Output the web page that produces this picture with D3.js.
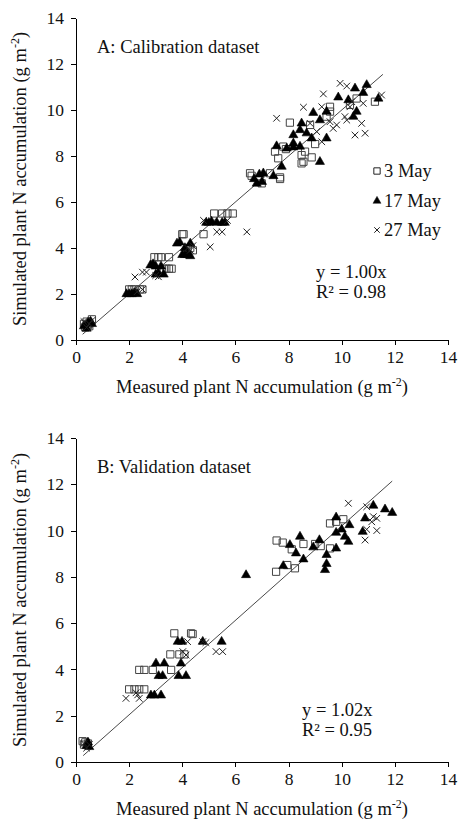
<!DOCTYPE html>
<html lang="en">
<head>
    <meta charset="UTF-8">
    <title>Simulated vs measured plant N accumulation</title>
    <script src="https://d3js.org/d3.v7.min.js"></script>
    <style>
        body {
            margin: 0;
            background: #fff;
            font-family: "Liberation Serif", "Times New Roman", serif;
        }
        .axis path, .axis line {
            stroke: #000;
            shape-rendering: crispEdges;
        }
        .axis text {
            font-family: "Liberation Serif", "Times New Roman", serif;
            font-size: 17.5px;
            fill: #111;
        }
        .lbl {
            font-size: 18.5px;
            fill: #111;
        }
    </style>
</head>
<body>
<div id="chart"></div>
<script>
    // ticks and labels
    const ticks = [0, 2, 4, 6, 8, 10, 12, 14];
    const dates = ["3 May", "17 May", "27 May"];

    // A: calibration dataset, [measured, simulated]
    const calMay3 = [
        [0.3,0.7],[0.4,0.8],[0.5,0.6],[0.6,0.9],[0.35,0.55],[0.45,0.65],
        [2.0,2.2],[2.1,2.2],[2.2,2.2],[2.4,2.2],[2.5,2.2],
        [2.95,3.6],[3.1,3.6],[3.2,3.6],[3.5,3.6],[3.3,3.1],[3.4,3.1],[3.5,3.1],[3.6,3.1],
        [4.0,4.6],[4.05,4.6],[4.3,4.0],[4.4,3.9],[4.2,3.95],[4.8,4.6],
        [5.2,5.5],[5.5,5.5],[5.7,5.5],[5.9,5.5],
        [6.55,7.25],[6.61,7.14],[6.99,6.81],[7.3,7.25],[7.68,7.0],
        [8.05,9.45],[9.56,10.14],[9.56,9.93],[9.43,9.71],[8.81,9.35],[9.0,8.52],[7.49,8.19],
        [7.8,8.41],[7.61,7.9],[8.49,8.04],[8.56,7.75],[8.87,7.94],[7.68,7.07],[8.62,8.19],
        [10.56,10.5],[11.25,10.36],[10.31,10.22],[7.9,8.3],[8.49,7.68]
    ];
    const calMay17 = [
        [0.3,0.6],[0.45,0.75],[0.55,0.8],[0.6,0.7],[0.4,0.5],
        [1.9,2.0],[2.0,2.0],[2.1,2.0],[2.2,2.05],[2.3,2.0],
        [2.8,3.25],[2.9,3.3],[3.0,2.85],[3.1,2.9],[3.2,3.2],[3.3,2.85],[3.0,3.2],
        [3.8,4.2],[3.9,4.25],[4.0,3.7],[4.1,3.7],[4.2,3.7],[4.3,3.65],[4.3,4.2],[4.1,4.0],
        [4.9,5.1],[5.0,5.1],[5.1,5.15],[5.3,5.1],[5.5,5.1],[5.6,5.1],
        [6.7,7.0],[6.8,6.8],[6.9,7.2],[7.05,7.25],[7.43,7.13],[7.0,6.88],[7.74,7.54],
        [10.5,10.94],[10.94,11.09],[10.81,10.75],[11.38,10.5],[9.87,10.55],[10.25,10.43],
        [10.56,9.93],[10.44,9.71],[8.93,9.88],[9.43,9.93],[8.49,9.42],[9.18,9.56],[8.18,8.91],
        [8.43,9.13],[8.68,8.99],[8.87,8.77],[7.55,8.43],[7.93,8.33],[8.18,8.38],[8.43,8.41],
        [9.43,8.77],[9.18,7.75],[8.18,8.55]
    ];
    const calMay27 = [
        [0.3,0.8],[0.4,0.55],[0.5,0.7],[0.6,0.85],
        [2.3,2.1],[2.5,2.2],
        [2.22,2.74],[2.5,2.95],[2.65,2.95],[3.0,2.8],[3.1,2.75],
        [4.2,4.0],[4.3,3.9],[4.4,4.1],
        [4.8,5.2],[5.7,5.2],[5.3,4.7],[5.5,4.7],[5.05,4.05],[6.43,4.7],
        [9.94,11.16],[10.19,11.04],[9.31,10.7],[11.5,10.65],[8.56,10.12],[7.55,9.64],
        [9.25,10.14],[10.31,10.14],[10.81,10.29],[10.12,9.71],[10.75,9.42],[10.5,8.91],
        [10.88,8.99],[9.81,9.35],[9.68,9.2],[9.25,8.62],[9.06,9.06],[8.81,9.42],[9.56,9.49],
        [10.19,9.56],[10.38,10.36]
    ];

    // B: validation dataset, [measured, simulated]
    const valMay3 = [
        [0.25,0.9],[0.3,0.75],[0.35,0.85],[0.45,0.8],
        [2.0,3.14],[2.2,3.14],[2.38,3.14],[2.57,3.14],[2.38,3.98],[2.57,3.98],[2.89,3.98],
        [3.58,3.98],[3.55,4.65],[3.89,4.65],[4.08,4.65],[3.7,5.56],[4.33,5.56],[4.39,5.53],
        [7.55,9.57],[7.78,9.48],[8.56,9.42],[8.12,9.19],[9.0,9.42],[9.21,9.33],[9.56,9.23],
        [9.56,10.31],[9.79,10.38],[10.06,10.49],[7.53,8.22],[7.95,8.51],[8.24,8.37]
    ];
    const valMay17 = [
        [0.4,0.7],[0.5,0.65],[0.45,0.85],
        [3.01,4.26],[3.32,4.26],[3.95,4.26],[3.11,3.72],[3.26,3.72],[3.86,3.72],[4.14,3.72],
        [2.82,2.88],[2.95,2.88],[3.2,2.88],[3.83,5.2],[3.99,5.2],[4.77,5.2],[5.48,5.2],
        [11.19,11.08],[11.63,10.92],[11.9,10.77],[10.88,10.53],[10.79,9.95],[9.79,10.57],
        [10.29,10.24],[10.0,10.05],[9.79,9.91],[10.12,9.74],[10.25,9.52],[9.79,9.23],
        [9.43,8.95],[9.43,8.56],[9.37,8.3],[8.43,9.74],[8.05,9.38],[8.28,9.02],[8.56,8.76],
        [9.16,9.59],[8.93,9.28],[7.8,8.47],[6.4,8.08]
    ];
    const valMay27 = [
        [0.3,0.8],[0.5,0.75],[0.4,0.6],
        [1.88,2.75],[2.26,2.99],[2.32,2.9],[2.38,2.75],[4.02,4.77],[4.14,4.62],[4.77,5.2],
        [4.89,5.16],[5.27,4.77],[5.52,4.77],[4.2,5.2],
        [10.25,11.18],[10.94,11.03],[11.19,10.6],[11.32,10.53],[11.13,10.38],[10.94,10.05],
        [11.32,10.0],[10.88,9.59]
    ];

    // fitted lines through the origin
    const slopes = [1.00, 1.02];
    const r2 = [0.98, 0.95];
    const fitRange = [[0.25, 11.55], [0.27, 11.9]];
    const titles = ["A: Calibration dataset", "B: Validation dataset"];

    const W = 459, H = 822;
    const svg = d3.select("#chart").append("svg")
        .attr("width", W).attr("height", H);

    const crossType = {
        draw(ctx, size) {
            const r = Math.sqrt(size) / 2;
            ctx.moveTo(-r, -r); ctx.lineTo(r, r);
            ctx.moveTo(r, -r); ctx.lineTo(-r, r);
        }
    };
    const square = d3.symbol().type(d3.symbolSquare).size(52)();
    const tri = d3.symbol().type(d3.symbolTriangle).size(36)();
    const cross = d3.symbol().type(crossType).size(44)();

    function drawMarks(g, pts, kind, x, y) {
        const sel = g.selectAll(null).data(pts).enter().append("path")
            .attr("transform", d => `translate(${x(d[0])},${y(d[1])})`);
        if (kind === 0) sel.attr("d", square).attr("fill", "none").attr("stroke", "#444").attr("stroke-width", 1);
        if (kind === 1) sel.attr("d", tri).attr("fill", "#000").attr("stroke", "#000").attr("stroke-width", 0.6);
        if (kind === 2) sel.attr("d", cross).attr("fill", "none").attr("stroke", "#222").attr("stroke-width", 1);
    }

    const panels = [
        { top: 18, bottom: 340, sets: [calMay3, calMay17, calMay27] },
        { top: 438, bottom: 762, sets: [valMay3, valMay17, valMay27] }
    ];

    panels.forEach((p, i) => {
        const x = d3.scaleLinear().domain([0, 14]).range([76, 448]);
        const y = d3.scaleLinear().domain([0, 14]).range([p.bottom, p.top]);
        const g = svg.append("g");

        g.append("g").attr("class", "axis")
            .attr("transform", `translate(0,${p.bottom})`)
            .call(d3.axisBottom(x).tickValues(ticks).tickSize(5).tickSizeOuter(0).tickPadding(6));
        g.append("g").attr("class", "axis")
            .attr("transform", "translate(76,0)")
            .call(d3.axisLeft(y).tickValues(ticks).tickSize(5).tickSizeOuter(0).tickPadding(7));

        // fit line
        g.append("line")
            .attr("x1", x(fitRange[i][0])).attr("y1", y(fitRange[i][0] * slopes[i]))
            .attr("x2", x(fitRange[i][1])).attr("y2", y(fitRange[i][1] * slopes[i]))
            .attr("stroke", "#333").attr("stroke-width", 0.9);

        p.sets.forEach((s, k) => drawMarks(g, s, k, x, y));

        g.append("text").attr("class", "lbl")
            .attr("x", 97).attr("y", p.top + 35)
            .text(titles[i]);

        // equation
        const ex = i === 0 ? 316 : 302;
        const ey = i === 0 ? p.bottom - 62 : p.bottom - 46;
        g.append("text").attr("class", "lbl").attr("x", ex).attr("y", ey)
            .text(`y = ${slopes[i].toFixed(2)}x`);
        g.append("text").attr("class", "lbl").attr("x", ex).attr("y", ey + 20)
            .text(`R² = ${r2[i].toFixed(2)}`);

        // axis titles
        const xt = g.append("text").attr("class", "lbl")
            .attr("x", 262).attr("y", p.bottom + 53).attr("text-anchor", "middle");
        xt.append("tspan").text("Measured plant N accumulation (g m");
        xt.append("tspan").attr("dy", -7).attr("font-size", 12).text("-2");
        xt.append("tspan").attr("dy", 7).text(")");

        const yt = g.append("text").attr("class", "lbl")
            .attr("transform", `translate(26,${(p.top + p.bottom) / 2}) rotate(-90)`)
            .attr("text-anchor", "middle");
        yt.append("tspan").text("Simulated plant N accumulation (g m");
        yt.append("tspan").attr("dy", -7).attr("font-size", 12).text("-2");
        yt.append("tspan").attr("dy", 7).text(")");

        // legend (panel A only)
        if (i === 0) {
            const lg = g.append("g");
            const ly = [171, 201, 230];
            dates.forEach((d, k) => {
                const sym = k === 0 ? d3.symbol().type(d3.symbolSquare).size(40)()
                    : k === 1 ? d3.symbol().type(d3.symbolTriangle).size(28)()
                    : d3.symbol().type(crossType).size(30)();
                lg.append("path").attr("d", sym)
                    .attr("transform", `translate(377,${ly[k]})`)
                    .attr("fill", k === 1 ? "#000" : "none")
                    .attr("stroke", "#222").attr("stroke-width", k === 1 ? 0.5 : 1);
                lg.append("text").attr("class", "lbl")
                    .attr("x", 384).attr("y", ly[k] + 6).text(d);
            });
        }
    });
</script>
</body>
</html>
